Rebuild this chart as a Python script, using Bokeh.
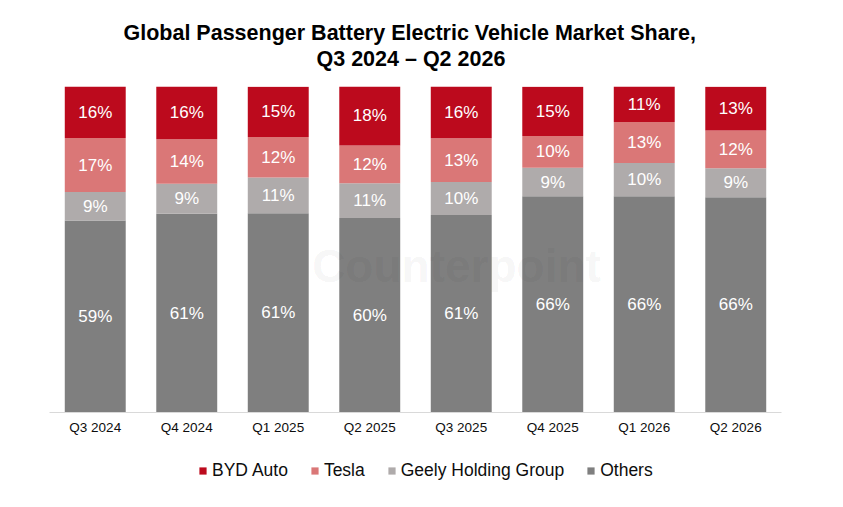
from bokeh.plotting import figure
from bokeh.models import ColumnDataSource, FactorRange, Legend, LegendItem, Label, Title, Range1d
from bokeh.layouts import column
from bokeh.core.properties import value
from bokeh.embed import file_html
from bokeh.resources import INLINE

quarters = ["Q3 2024", "Q4 2024", "Q1 2025", "Q2 2025", "Q3 2025", "Q4 2025", "Q1 2026", "Q2 2026"]
others = [58.9, 61.0, 61.1, 59.7, 60.6, 66.3, 66.3, 66.0]
geely = [8.7, 9.2, 11.0, 10.6, 10.1, 8.8, 10.2, 8.9]
tesla = [16.6, 13.6, 12.4, 11.6, 13.4, 9.7, 12.6, 11.6]
byd = [15.9, 16.3, 15.4, 18.2, 16.0, 15.1, 10.9, 13.4]

series_names = ["Others", "Geely Holding Group", "Tesla", "BYD Auto"]
series_keys = ["others", "geely", "tesla", "byd"]
colors = ["#7f7f7f", "#afabab", "#da7777", "#bc0a1d"]

FONT = "Liberation Sans"

data = dict(quarter=quarters, others=others, geely=geely, tesla=tesla, byd=byd)
source = ColumnDataSource(data)

p = figure(x_range=FactorRange(factors=quarters, range_padding=0), y_range=(0, 100),
           frame_width=732, frame_height=326, width=835, height=437,
           output_backend="svg", toolbar_location=None,
           min_border_left=49, min_border_right=54, min_border_top=86, min_border_bottom=0)
p.title = None
p.outline_line_color = None
p.xgrid.visible = False
p.ygrid.visible = False
p.yaxis.visible = False
p.xaxis.axis_line_color = "#d9d9d9"
p.xaxis.axis_line_width = 1
p.xaxis.major_tick_line_color = None
p.xaxis.minor_tick_line_color = None
p.xaxis.major_label_text_font = FONT
p.xaxis.major_label_text_font_size = "13.5px"
p.xaxis.major_label_text_color = "#0d0d0d"
p.xaxis.major_label_standoff = 1

renderers = p.vbar_stack(series_keys, x="quarter", width=0.666, source=source,
                         color=colors, line_color=None)

# segment labels
bottom = [0.0] * len(quarters)
for key, vals in zip(series_keys, [others, geely, tesla, byd]):
    mids = [b + v / 2 for b, v in zip(bottom, vals)]
    labels = [f"{round(v):d}%" for v in vals]
    lsrc = ColumnDataSource(dict(x=quarters, y=mids, t=labels))
    p.text(x="x", y="y", text="t", source=lsrc, text_color="white",
           text_font=value(FONT), text_font_size="17px",
           text_align="center", text_baseline="middle")
    bottom = [b + v for b, v in zip(bottom, vals)]

# watermark
p.add_layout(Label(x=407, y=147, x_units="screen", y_units="screen", text="Counterpoint",
                   text_font=FONT, text_font_style="bold", text_font_size="46px",
                   text_color="#000000", text_alpha=0.055, text_align="center",
                   text_baseline="middle", level="overlay"))

# title (items added first sit closest to the plot)
p.add_layout(Title(text=" ", text_font_size="10px", standoff=3), "above")
p.add_layout(Title(text="Q3 2024 \u2013 Q2 2026", align="left", offset=267, text_line_height=1.0,
                   text_font=FONT, text_font_style="bold", text_font_size="21.5px",
                   text_color="#000000", standoff=0), "above")
p.add_layout(Title(text="Global Passenger Battery Electric Vehicle Market Share,", align="left",
                   offset=74, text_font=FONT, text_font_style="bold", text_font_size="21.5px",
                   text_color="#000000", standoff=0), "above")

# legend strip
q = figure(width=835, height=62, x_range=Range1d(0, 1), y_range=Range1d(0, 1),
           output_backend="svg", toolbar_location=None,
           min_border_left=0, min_border_right=0, min_border_top=0, min_border_bottom=0)
q.title = None
q.axis.visible = False
q.grid.visible = False
q.outline_line_color = None
# zero-width swatch renderers used only for the legend glyphs
dummy = [q.vbar(x=[0.5], top=[0.5], width=0, color=c, line_color=None) for c in colors]
items = [LegendItem(label=n, renderers=[r]) for n, r in zip(series_names, dummy)][::-1]
legend = Legend(items=items, orientation="horizontal", location=(149, 18),
                glyph_width=9, glyph_height=9, label_standoff=5, spacing=22, label_height=20,
                padding=0, margin=0, border_line_color=None, background_fill_alpha=0,
                label_text_font=FONT, label_text_font_size="17.5px", label_text_color="#0d0d0d")
q.add_layout(legend, "center")

layout = column(p, q, spacing=0)
open("out.html", "w").write(file_html(layout, INLINE))
